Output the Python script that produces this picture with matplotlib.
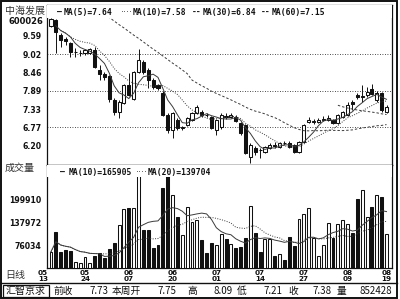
import numpy as np
import pandas as pd
import matplotlib
matplotlib.use("Agg")
import matplotlib.pyplot as plt
from matplotlib.patches import Rectangle
from matplotlib.transforms import ScaledTranslation

# ---------------- data ----------------
stock_name = "中海发展"
stock_code = "600026"
date_labels = ["05\n13", "05\n24", "06\n07", "06\n20", "07\n01", "07\n14", "07\n27", "08\n09", "08\n19"]
date_idx = [0, 7, 16, 25, 34, 43, 52, 61, 69]

opens = [9.88, 10.06, 9.60, 9.48, 9.36, 9.07, 9.04, 9.05, 9.05, 9.14,
         8.53, 8.42, 8.35, 7.61, 7.24, 7.52, 8.07, 7.64, 8.47, 8.77,
         8.53, 8.22, 8.07, 7.82, 7.15, 6.69, 7.00, 6.75, 6.84, 7.00,
         7.21, 7.24, 7.16, 7.09, 6.69, 6.78, 7.13, 7.08, 7.09, 6.90,
         6.84, 5.86, 6.14, 6.09, 6.01, 6.14, 6.23, 6.17, 6.30, 6.29,
         6.23, 6.01, 6.32, 6.93, 6.92, 6.93, 7.00, 7.00, 7.00, 6.90,
         7.09, 7.15, 7.56, 7.76, 7.70, 7.75, 7.95, 7.61, 7.82, 7.24]
highs = [10.12, 10.08, 9.66, 9.54, 9.39, 9.20, 9.14, 9.18, 9.20, 9.23,
         8.68, 8.47, 8.38, 7.67, 7.60, 8.10, 8.44, 8.50, 9.17, 8.84,
         8.59, 8.28, 8.10, 7.88, 7.20, 7.25, 7.05, 6.82, 7.10, 7.25,
         7.46, 7.30, 7.20, 7.12, 7.03, 7.20, 7.20, 7.22, 7.14, 6.93,
         6.87, 6.28, 6.20, 6.14, 6.20, 6.29, 6.32, 6.33, 6.35, 6.35,
         6.26, 6.35, 6.87, 7.09, 7.02, 7.05, 7.12, 7.15, 7.03, 7.18,
         7.27, 7.55, 7.60, 7.82, 8.07, 8.00, 8.09, 7.88, 7.85, 7.46]
lows = [9.85, 9.05, 9.23, 9.30, 8.93, 8.93, 8.96, 9.00, 9.02, 8.58,
        8.22, 8.22, 7.55, 7.15, 7.06, 7.48, 7.72, 7.60, 8.44, 8.40,
        7.98, 7.95, 7.92, 7.12, 6.60, 6.44, 6.70, 6.70, 6.80, 6.97,
        7.18, 7.10, 7.08, 6.72, 6.54, 6.72, 7.03, 7.05, 6.94, 6.55,
        5.95, 5.68, 5.92, 5.83, 5.98, 6.11, 6.14, 6.14, 6.22, 6.14,
        5.98, 5.98, 6.28, 6.90, 6.88, 6.90, 6.97, 6.97, 6.88, 6.87,
        7.06, 7.12, 7.30, 7.64, 7.55, 7.70, 7.76, 7.55, 7.25, 7.21]
closes = [10.08, 9.69, 9.45, 9.42, 9.08, 9.09, 9.06, 9.14, 9.17, 8.62,
          8.41, 8.31, 7.64, 7.24, 7.55, 8.07, 7.76, 8.47, 8.84, 8.47,
          8.22, 8.01, 7.98, 7.15, 6.69, 7.21, 6.75, 6.77, 7.06, 7.21,
          7.39, 7.15, 7.14, 6.75, 7.00, 7.15, 7.09, 7.14, 6.97, 6.60,
          5.98, 6.23, 6.01, 6.07, 6.17, 6.23, 6.20, 6.29, 6.28, 6.17,
          6.01, 6.32, 6.84, 7.00, 6.95, 7.00, 7.02, 7.06, 6.90, 7.15,
          7.24, 7.46, 7.50, 7.70, 7.73, 7.86, 7.79, 7.82, 7.30, 7.38]
volumes = [58800, 112700, 58800, 63400, 61500, 31900, 27500, 45300, 29300, 48000,
           54500, 41000, 65300, 81400, 130700, 173800, 175700, 175700, 300000, 117200,
           117200, 68800, 76900, 230300, 300000, 211500, 152200, 103800, 179200, 138800,
           144200, 90300, 55300, 82300, 76900, 106400, 93000, 78700, 69600, 72300,
           96500, 182700, 108300, 58800, 93000, 93000, 48000, 51800, 36400, 97600,
           74100, 146900, 159500, 175700, 94900, 47200, 76900, 135300, 94900, 132600,
           144200, 132600, 110000, 200700, 224900, 151400, 180000, 211500, 206900, 105700]

# MA(30) where the window reaches before the first shown day
ma30_head = [np.nan] * 11 + [10.25, 10.14, 10.03, 9.92, 9.82, 9.71, 9.60, 9.50, 9.39,
                             9.28, 9.17, 9.07, 8.96, 8.85, 8.74, 8.64, 8.53, 8.42]

price_ticks = [9.59, 9.02, 8.46, 7.89, 7.33, 6.77, 6.20]
grid_levels = [9.02, 7.89, 6.77]
vol_ticks = [199910, 137972, 76034]

# legend: (marker glyphs, marker x, marker size, name text, name x) in reference pixels
price_legend = [("—", 57, 5.8, "MA(5)=7.64", 64), ("····", 121, 3.6, "MA(10)=7.58", 133),
                ("--", 192, 5.8, "MA(30)=6.84", 203), ("--", 261, 5.8, "MA(60)=7.15", 272)]
vol_legend = [("—", 60, 5.8, "MA(10)=165905", 69), ("····", 136, 3.6, "MA(20)=139704", 148)]
info_items = [("前收", 53, "left"), ("7.73", 108, "right"), ("本周开", 112, "left"), ("7.75", 176, "right"),
              ("高", 187, "left"), ("8.09", 233, "right"), ("低", 237, "left"), ("7.21", 283, "right"),
              ("收", 288, "left"), ("7.38", 332, "right"), ("量", 337, "left"), ("852428", 392, "right")]
broker = "汇智京求"

# ---------------- figure ----------------
W, H = 400, 299
fig = plt.figure(figsize=(W / 100, H / 100), dpi=100)
fig.patch.set_facecolor("white")

def frect(x0, y0, x1, y1):
    return [x0 / W, 1 - y1 / H, (x1 - x0) / W, (y1 - y0) / H]

bg = fig.add_axes([0, 0, 1, 1], zorder=-1)
bg.set_xlim(0, W); bg.set_ylim(H, 0); bg.axis("off")

L, R = 47, 392
ax_p = fig.add_axes(frect(L, 5, R, 165))
ax_v = fig.add_axes(frect(L, 165, R, 268))

n = len(closes)
x = np.arange(n)
o = np.array(opens); c = np.array(closes); hi = np.array(highs); lo = np.array(lows)
v = np.array(volumes, dtype=float)
up = c >= o

step = 4.87
xlim = (-(51 - L) / step, (n - 1) + (R - 386.5) / step)

CJK = ["Noto Sans CJK SC", "DejaVu Sans"]
BIT = "DejaVu Sans"
MONO = "DejaVu Sans Mono"
ink = "#111111"
lc = "#3a3a3a"

# ---- price panel ----
ax_p.vlines(x, lo, hi, color=ink, lw=0.7, zorder=2)
bot = np.minimum(o, c)
bh = np.maximum(np.abs(c - o), 0.015)
ax_p.bar(x[up], bh[up], bottom=bot[up], width=0.64, facecolor="white", edgecolor=ink, lw=0.75, zorder=3)
ax_p.bar(x[~up], bh[~up], bottom=bot[~up], width=0.64, facecolor=ink, edgecolor=ink, lw=0.75, zorder=3)

cs = pd.Series(closes)
ma5 = cs.rolling(5, min_periods=1).mean()
ma10 = cs.rolling(10, min_periods=1).mean()
ma30 = cs.rolling(30).mean()
ma30.iloc[:29] = ma30_head
ma60 = cs.rolling(60).mean()
ax_p.plot(x[1:], ma5[1:], color=lc, lw=0.7, zorder=4)
ax_p.plot(x[2:], ma10[2:], color=lc, lw=0.7, ls=(0, (1, 1.5)), zorder=4)
ax_p.plot(x, ma30, color=lc, lw=0.7, ls=(0, (2.5, 2)), zorder=4)
ax_p.plot(x, ma60, color=lc, lw=0.7, ls=(0, (2.5, 2)), zorder=4)
for g in grid_levels:
    ax_p.axhline(g, color=ink, lw=0.6, ls=(0, (1, 2)), zorder=1)

ax_p.set_xlim(*xlim)
ax_p.set_ylim(9.02 - 111 / 32.6, 9.02 + 49 / 32.6)
ax_p.set_xticks([])
ax_p.set_yticks(price_ticks)
ax_p.set_yticklabels([f"{t:.2f}" for t in price_ticks], fontsize=5.6, fontweight="bold", family=BIT, color=ink)
ax_p.tick_params(axis="y", length=0, pad=4)
ax_p.add_patch(Rectangle((0, 1 - 13 / 160), 1, 13 / 160, transform=ax_p.transAxes,
                         facecolor="white", edgecolor="none", zorder=5))

# ---- volume panel ----
ax_v.bar(x[up], v[up], width=0.6, facecolor="white", edgecolor=ink, lw=0.75, zorder=3)
ax_v.bar(x[~up], v[~up], width=0.6, facecolor=ink, edgecolor=ink, lw=0.75, zorder=3)
vs = pd.Series(volumes, dtype=float)
vma10 = vs.rolling(10, min_periods=1).mean()
vma20 = vs.rolling(20, min_periods=1).mean()
ax_v.plot(x, vma10, color=lc, lw=0.7, zorder=4)
ax_v.plot(x, vma20, color=lc, lw=0.7, ls=(0, (1, 1.5)), zorder=4)
ax_v.set_xlim(*xlim)
ax_v.set_ylim(199910 - (268 - 199.3) / 23 * 61938, 199910 + (199.3 - 165) / 23 * 61938)
ax_v.set_yticks(vol_ticks)
ax_v.set_yticklabels([str(t) for t in vol_ticks], fontsize=5.6, fontweight="bold", family=BIT, color=ink)
ax_v.tick_params(axis="y", length=0, pad=4)
ax_v.set_xticks(date_idx)
ax_v.set_xticklabels(date_labels, fontsize=5.2, fontweight="bold", family=BIT, color=ink, linespacing=0.95)
ax_v.tick_params(axis="x", length=0, pad=1.5)
lab0 = ax_v.get_xticklabels()[0]
lab0.set_transform(lab0.get_transform() + ScaledTranslation(-8 / 100, 0, fig.dpi_scale_trans))
ax_v.add_patch(Rectangle((0, 1 - 12 / 103), 1, 12 / 103, transform=ax_v.transAxes,
                         facecolor="white", edgecolor="none", zorder=5))

for ax in (ax_p, ax_v):
    for s in ax.spines.values():
        s.set_linewidth(0.9)
        s.set_color(ink)

# ---- legends (figure texts so they sit above the panels) ----
def legend_row(items, py):
    for mark, mx, msize, name, nx in items:
        fig.text(mx / W, 1 - py / H, mark, fontsize=msize, fontweight="bold", family=MONO,
                 color=ink, va="center", ha="left", zorder=10)
        fig.text(nx / W, 1 - py / H, name, fontsize=5.8, fontweight="bold", family=MONO,
                 color=ink, va="center", ha="left", zorder=10)

legend_row(price_legend, 12)
legend_row(vol_legend, 172)

# ---- left labels ----
bg.text(25, 11, stock_name, fontsize=7.2, family=CJK, color="#333333", ha="center", va="center")
bg.text(26, 22, stock_code, fontsize=6.0, fontweight="bold", family=BIT, color=ink, ha="center", va="center")
bg.text(20, 168, "成交量", fontsize=7.2, family=CJK, color="#333333", ha="center", va="center")
bg.text(15, 275, "日线", fontsize=7.2, family=CJK, color="#333333", ha="center", va="center")

# ---- bottom info bar ----
bg.plot([0, 397], [283, 283], color=ink, lw=1.0)
bg.add_patch(Rectangle((2.5, 284.5), 46, 12.5, facecolor="white", edgecolor=ink, lw=0.9))
bg.text(25.5, 291, broker, fontsize=7.2, family=CJK, color=ink, ha="center", va="center")
for txt, px, ha in info_items:
    bg.text(px, 291, txt, fontsize=7.0, family=CJK, color=ink, ha=ha, va="center")

# ---- outer frame ----
bg.add_patch(Rectangle((0.5, 0.8), 396, 297.5, facecolor="none", edgecolor=ink, lw=1.4))

fig.savefig("out.png", dpi=100, facecolor="white")
